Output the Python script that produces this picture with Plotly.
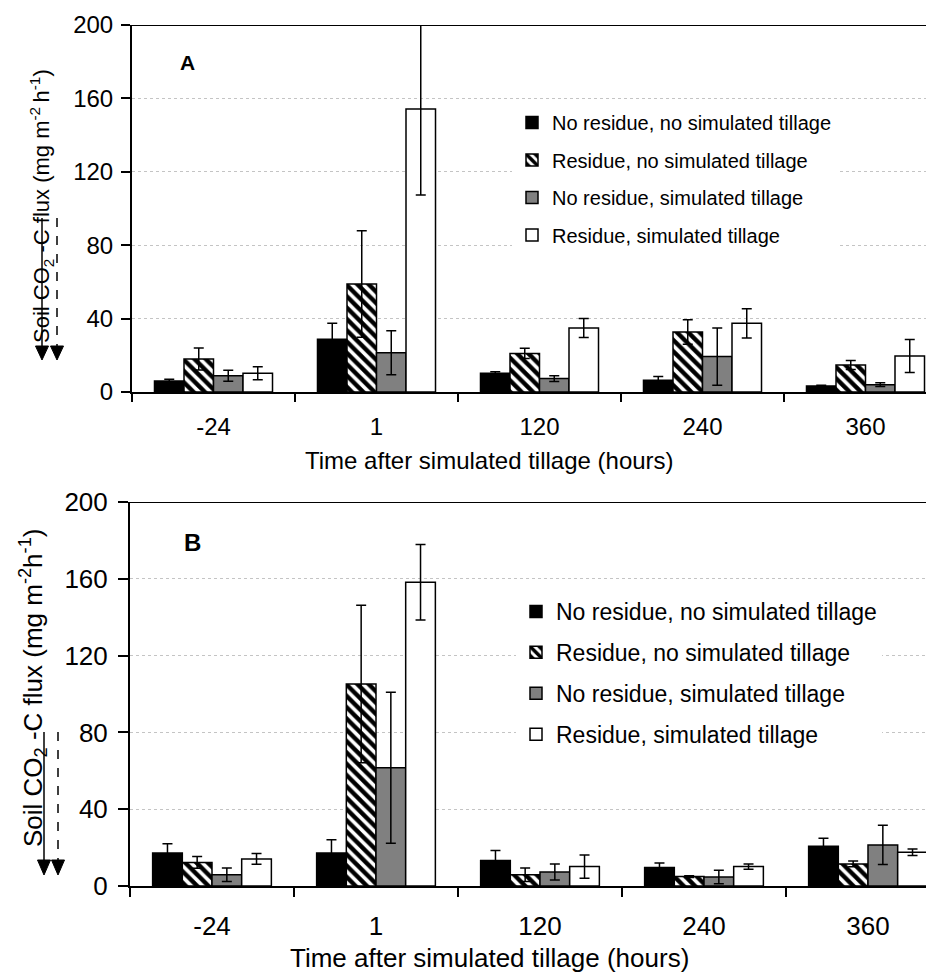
import plotly.graph_objects as go

OFF = 8  # page body margin
W, H = 934 - OFF, 973 - OFF
FONT = "Liberation Sans, Arial, sans-serif"

categories = ["-24", "1", "120", "240", "360"]
series_names = ["No residue, no simulated tillage", "Residue, no simulated tillage",
                "No residue, simulated tillage", "Residue, simulated tillage"]

# Panel A
a_nn = [6.0, 28.7, 10.2, 6.4, 3.3]
a_nn_err = [0.9, 8.7, 0.9, 2.1, 0.4]
a_rn = [18.0, 58.9, 21.0, 32.7, 14.7]
a_rn_err = [6.0, 29.0, 2.8, 6.7, 2.4]
a_ns = [8.9, 21.4, 7.3, 19.3, 4.0]
a_ns_err = [3.0, 12.0, 1.6, 15.6, 1.0]
a_rs = [10.2, 154.2, 34.9, 37.4, 19.6]
a_rs_err = [3.5, 46.8, 5.2, 8.0, 9.0]

# Panel B
b_nn = [17.2, 17.2, 13.3, 9.7, 20.7]
b_nn_err = [4.8, 6.9, 5.2, 2.3, 4.2]
b_rn = [12.3, 105.2, 5.9, 4.9, 11.5]
b_rn_err = [3.0, 41.0, 3.5, 0.5, 1.5]
b_ns = [5.9, 61.6, 7.3, 4.7, 21.4]
b_ns_err = [3.5, 39.3, 4.2, 3.5, 10.2]
b_rs = [14.1, 158.2, 10.1, 10.1, 17.6]
b_rs_err = [2.8, 19.6, 6.0, 1.4, 1.7]

y_ticks = [0, 40, 80, 120, 160, 200]


def px(x):
    return (x - OFF) / W


def py(y):
    return 1 - (y - OFF) / H


styles = [
    dict(color="#000000", line=dict(color="#000000", width=1.5)),
    dict(color="#ffffff", line=dict(color="#000000", width=1.5),
         pattern=dict(shape="\\", size=8, solidity=0.55, fgcolor="#000000", bgcolor="#ffffff")),
    dict(color="#808080", line=dict(color="#000000", width=1.5)),
    dict(color="#ffffff", line=dict(color="#000000", width=1.5)),
]

fig = go.Figure()

panels = [
    ("x", "y", "legend", [(a_nn, a_nn_err), (a_rn, a_rn_err), (a_ns, a_ns_err), (a_rs, a_rs_err)]),
    ("x2", "y2", "legend2", [(b_nn, b_nn_err), (b_rn, b_rn_err), (b_ns, b_ns_err), (b_rs, b_rs_err)]),
]
for xa, ya, lg, data in panels:
    for i, (vals, errs) in enumerate(data):
        fig.add_trace(go.Bar(
            x=categories, y=vals, name=series_names[i],
            xaxis=xa, yaxis=ya, legend=lg, legendgroup=f"{lg}_{i}",
            marker=styles[i], cliponaxis=False,
            error_y=dict(type="data", array=errs, visible=True, color="#000000",
                         thickness=1.5, width=5),
        ))

axis_common = dict(showline=True, linecolor="#000000", linewidth=2, ticks="outside",
                   tickcolor="#000000", tickwidth=1.5, automargin=False)

a_xr = (934 - 132) / 163.0 - 0.5
b_xr = (934 - 130) / 164.0 - 0.5

fig.update_layout(
    template="none",
    width=W, height=H, margin=dict(l=0, r=0, t=0, b=0, pad=0, autoexpand=False),
    paper_bgcolor="white", plot_bgcolor="white",
    barmode="group", bargap=0.276, bargroupgap=0,
    font=dict(family=FONT, color="#000000"),
    xaxis=dict(domain=[px(132), 1], anchor="y", type="category", range=[-0.5, a_xr],
               tickson="boundaries", ticklen=8, ticklabelstandoff=12, showgrid=False,
               tickfont=dict(size=24, family=FONT), **axis_common),
    yaxis=dict(domain=[py(392), py(25)], anchor="x", range=[0, 200], tickvals=y_ticks,
               ticklen=9, ticklabelstandoff=3, showgrid=True, gridcolor="#c4c4c4",
               griddash="dot", gridwidth=1, zeroline=False,
               tickfont=dict(size=24, family=FONT), **axis_common),
    xaxis2=dict(domain=[px(130), 1], anchor="y2", type="category", range=[-0.5, b_xr],
                tickson="boundaries", ticklen=9, ticklabelstandoff=16, showgrid=False,
                tickfont=dict(size=26, family=FONT), **axis_common),
    yaxis2=dict(domain=[py(886), py(502)], anchor="x2", range=[0, 200], tickvals=y_ticks,
                ticklen=10, ticklabelstandoff=5, showgrid=True, gridcolor="#c4c4c4",
                griddash="dot", gridwidth=1, zeroline=False,
                tickfont=dict(size=26, family=FONT), **axis_common),
    legend=dict(x=px(512), y=py(103), xanchor="left", yanchor="top", bgcolor="white",
                borderwidth=0,
                font=dict(size=20, family=FONT), tracegroupgap=8.5, traceorder="grouped"),
    legend2=dict(x=px(516), y=py(590), xanchor="left", yanchor="top", bgcolor="white",
                 borderwidth=0,
                 font=dict(size=23, family=FONT), tracegroupgap=8, traceorder="grouped"),
)

shapes = []
# top border lines at 200
shapes.append(dict(type="line", xref="x domain", yref="y", x0=0, x1=1, y0=200, y1=200,
                   line=dict(color="#000000", width=2)))
shapes.append(dict(type="line", xref="x2 domain", yref="y2", x0=0, x1=1, y0=200, y1=200,
                   line=dict(color="#000000", width=2)))


def arrow_pair(xs, xd, y0, y1, tip):
    out = []
    out.append(dict(type="line", xref="paper", yref="paper", x0=px(xs), x1=px(xs),
                    y0=py(y0), y1=py(y1), line=dict(color="#000000", width=1.5)))
    out.append(dict(type="line", xref="paper", yref="paper", x0=px(xd), x1=px(xd),
                    y0=py(y0), y1=py(y1), line=dict(color="#000000", width=1.5, dash="dash")))
    for xc in (xs, xd):
        path = (f"M {px(xc-6.5)},{py(y1)} L {px(xc+6.5)},{py(y1)} L {px(xc)},{py(tip)} Z")
        out.append(dict(type="path", xref="paper", yref="paper", path=path,
                        fillcolor="#000000", line=dict(color="#000000", width=1)))
    return out


shapes += arrow_pair(42, 57, 218, 346, 360)
shapes += arrow_pair(44, 58, 732, 860, 875)
fig.update_layout(shapes=shapes)


def ann(text, x, y, size, angle=0):
    return dict(text=text, x=px(x), y=py(y), xref="paper", yref="paper", showarrow=False,
                xanchor="center", yanchor="middle", textangle=angle,
                font=dict(size=size, family=FONT))


annotations = [
    ann("<b>A</b>", 187, 62, 21),
    ann("<b>B</b>", 192, 542, 24),
    ann("Time after simulated tillage (hours)", 490, 460, 24),
    ann("Time after simulated tillage (hours)", 489, 958, 26),
    ann("Soil CO<sub>2</sub> -C flux (mg m<sup>-2 </sup>h<sup>-1</sup>)", 42, 206, 22, -90),
    ann("Soil CO<sub>2</sub> -C flux (mg m<sup>-2</sup>h<sup>-1</sup>)", 33, 688, 26, -90),
]
fig.update_layout(annotations=annotations)

fig.write_html("out.html")
